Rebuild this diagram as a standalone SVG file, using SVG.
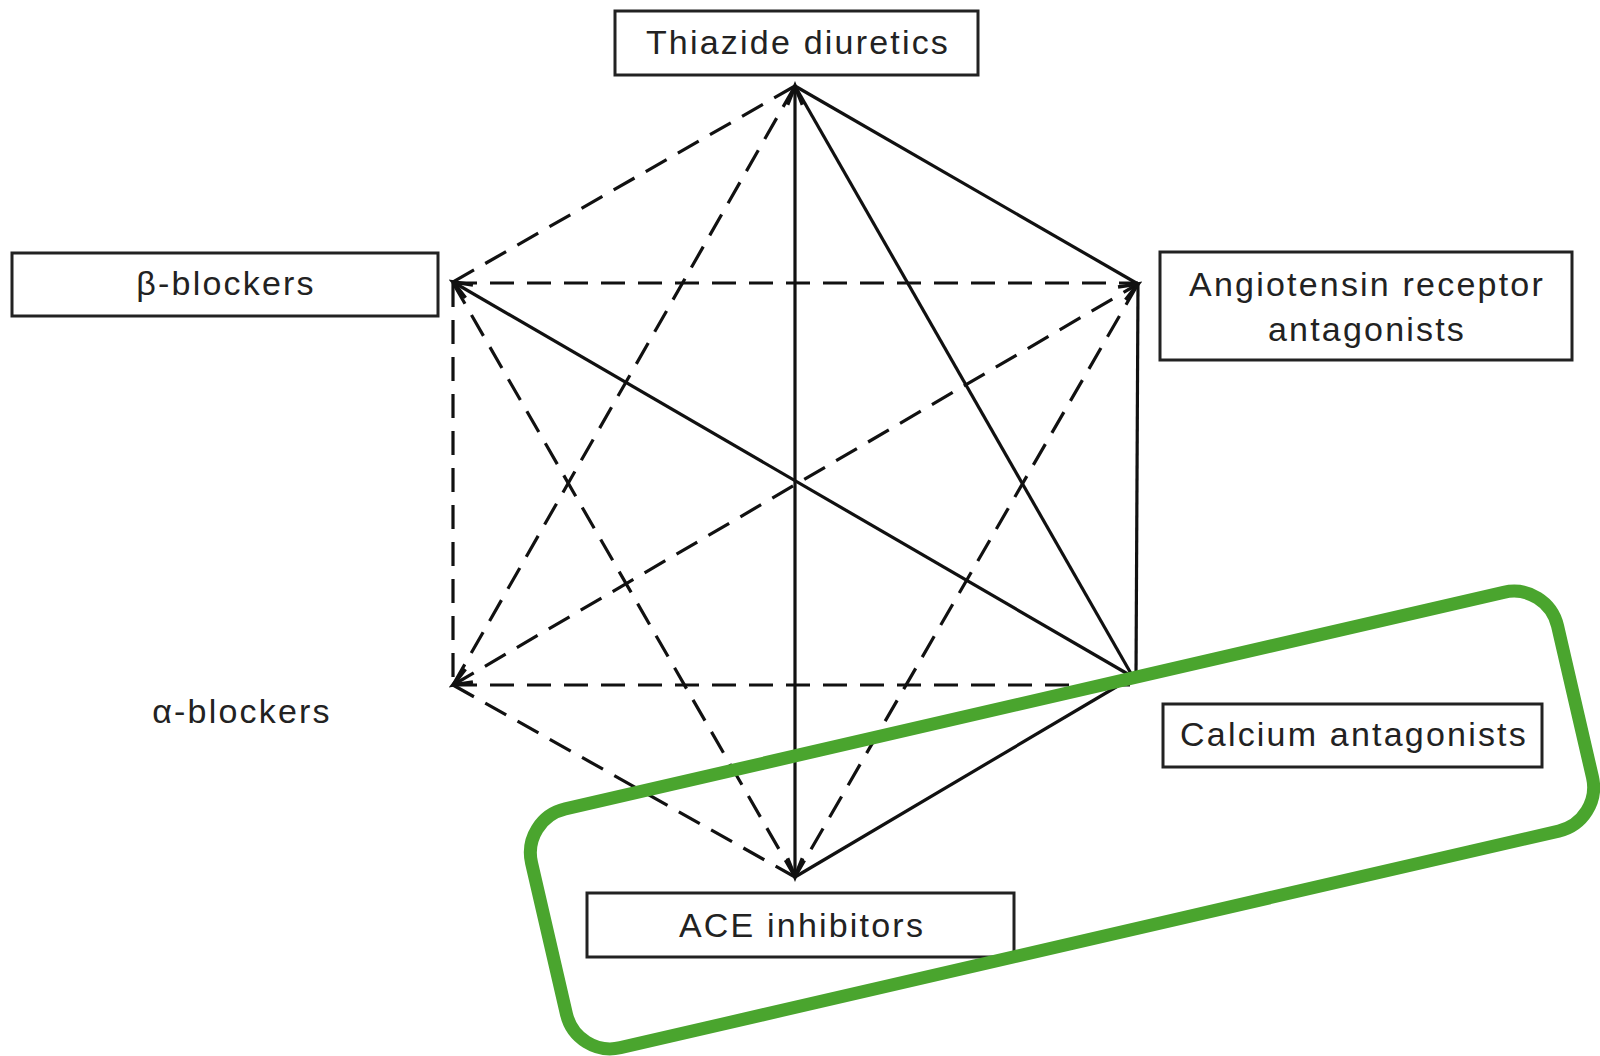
<svg xmlns="http://www.w3.org/2000/svg" width="1600" height="1056" viewBox="0 0 1600 1056">
<style>
.box{fill:#fff;stroke:#222;stroke-width:3}
.lbl{font-family:"Liberation Sans",Arial,sans-serif;font-size:34px;letter-spacing:2.2px;fill:#222;text-anchor:middle}
.s{stroke:#111;stroke-width:3.2;fill:none}
.d{stroke:#111;stroke-width:3.2;fill:none;stroke-dasharray:24 13}
.hl{fill:none;stroke:#4aa52e;stroke-width:13}
</style>
<defs>
<marker id="ah" markerUnits="userSpaceOnUse" markerWidth="30" markerHeight="30" viewBox="-20 -10 24 20" refX="0" refY="0" orient="auto-start-reverse">
<path d="M-15,-6 L0,0 L-15,6" fill="none" stroke="#111" stroke-width="3" stroke-dasharray="none"/>
</marker>
</defs>
<rect width="1600" height="1056" fill="#fff"/>
<g id="connectors">
<line class="s" x1="795" y1="86" x2="795" y2="877" marker-start="url(#ah)" marker-end="url(#ah)"/>
<line class="s" x1="795" y1="86" x2="1133" y2="677"/>
<line class="s" x1="795" y1="86" x2="1138" y2="284"/>
<line class="s" x1="1133" y1="677" x2="453" y2="282" marker-end="url(#ah)"/>
<line class="s" x1="1138" y1="284" x2="1136" y2="677"/>
<line class="s" x1="1133" y1="677" x2="795" y2="877"/>
<line class="d" x1="795" y1="86" x2="453" y2="282"/>
<line class="d" x1="795" y1="86" x2="453" y2="685"/>
<line class="d" x1="453" y1="283" x2="1138" y2="283"/>
<line class="d" x1="453" y1="283" x2="453" y2="685"/>
<line class="d" x1="453" y1="283" x2="795" y2="877"/>
<line class="d" x1="453" y1="685" x2="1138" y2="284" marker-start="url(#ah)" marker-end="url(#ah)"/>
<line class="d" x1="1138" y1="284" x2="795" y2="877"/>
<line class="d" x1="453" y1="685" x2="1130" y2="685"/>
<line class="d" x1="453" y1="685" x2="795" y2="877"/>
</g>
<g id="thiazide">
<rect class="box" x="615" y="11" width="363" height="64"/>
<text class="lbl" x="798" y="54">Thiazide diuretics</text>
</g>
<g id="beta">
<rect class="box" x="12" y="253" width="426" height="63"/>
<text class="lbl" x="226" y="295">β-blockers</text>
</g>
<g id="arb">
<rect class="box" x="1160" y="252" width="412" height="108"/>
<text class="lbl" x="1367" y="296">Angiotensin receptor</text>
<text class="lbl" x="1367" y="341">antagonists</text>
</g>
<g id="alpha">
<text class="lbl" x="242" y="723">α-blockers</text>
</g>
<g id="calcium">
<rect class="box" x="1163" y="704" width="379" height="63"/>
<text class="lbl" x="1354" y="746">Calcium antagonists</text>
</g>
<g id="ace">
<rect class="box" x="587" y="893" width="427" height="64"/>
<text class="lbl" x="802" y="937">ACE inhibitors</text>
</g>
<g id="highlight">
<rect class="hl" x="535.5" y="697.5" width="1053" height="245" rx="45" ry="45" transform="rotate(-13 1062 820)"/>
</g>
</svg>
